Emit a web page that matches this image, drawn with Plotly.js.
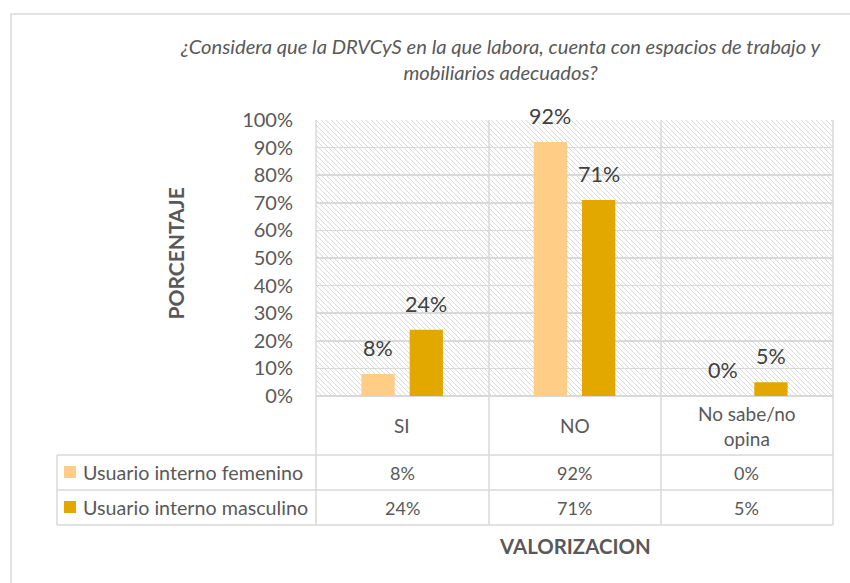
<!DOCTYPE html>
<html>
<head>
<meta charset="utf-8">
<script src="https://cdn.plot.ly/plotly-3.0.1.min.js"></script>
<style>html,body{margin:0;padding:0;background:#fff;}#chart{width:850px;height:583px;}</style>
</head>
<body>
<div id="chart"></div>
<script>
const categories = ['SI', 'NO', 'No sabe/no opina'];
const categoryLabels = ['SI', 'NO', 'No sabe/no<br>opina'];
const seriesNames = ['Usuario interno femenino', 'Usuario interno masculino'];
const femenino = [8, 92, 0];
const masculino = [24, 71, 5];
const yTicks = [0, 10, 20, 30, 40, 50, 60, 70, 80, 90, 100];
const titleText = '¿Considera que la DRVCyS en la que labora, cuenta con espacios de trabajo y<br>mobiliarios adecuados?';
const yTitle = 'PORCENTAJE';
const xTitle = 'VALORIZACION';

const colors = ['#FFCD85', '#E2A800'];
const FONT = 'Lato, "Open Sans", sans-serif';
const GRID = '#d9d9d9';
const TXT = '#595959';

// geometry helpers (pixel -> paper)
const L = 316, R = 833, T = 120, B = 396, W = 850, H = 583;
const px = x => (x - L) / (R - L);
const py = y => (B - y) / (B - T);

const seriesData = [femenino, masculino];
const traces = seriesData.map((vals, i) => ({
  type: 'bar', x: categories, y: vals, name: seriesNames[i],
  marker: {color: colors[i]}, hoverinfo: 'skip', showlegend: false
}));

const annotations = [];
const shapes = [];
const offs = [-0.14, 0.14];
seriesData.forEach((vals, s) => {
  vals.forEach((v, i) => {
    annotations.push({x: i + offs[s], y: v, xref: 'x', yref: 'y', text: v + '%', showarrow: false,
      yanchor: 'middle', yshift: 26, font: {family: FONT, size: 21.5, color: '#404040'}});
  });
});
// category header row
categoryLabels.forEach((c, i) => {
  annotations.push({x: i, y: py(425.5), xref: 'x', yref: 'paper', text: c, showarrow: false,
    yanchor: 'middle', font: {family: FONT, size: 19, color: TXT}});
});
// table rows
const rowCenters = [472.5, 507.5];
const rowTops = [466, 501];
seriesData.forEach((vals, s) => {
  vals.forEach((v, i) => {
    annotations.push({x: i, y: py(rowCenters[s]), xref: 'x', yref: 'paper', text: v + '%', showarrow: false,
      yanchor: 'middle', font: {family: FONT, size: 18, color: TXT}});
  });
  annotations.push({x: px(81), y: py(rowCenters[s]), xref: 'paper', yref: 'paper', text: seriesNames[s],
    showarrow: false, xanchor: 'left', yanchor: 'middle', font: {family: FONT, size: 19.7, color: TXT}});
  shapes.push({type: 'rect', xref: 'paper', yref: 'paper', x0: px(64), x1: px(76), y0: py(rowTops[s]), y1: py(rowTops[s] + 12),
    fillcolor: colors[s], line: {width: 0}});
});
// titles
annotations.push({x: px(500), y: py(59), xref: 'paper', yref: 'paper', text: '<i>' + titleText + '</i>', showarrow: false,
  xanchor: 'center', yanchor: 'middle', font: {family: FONT, size: 20.2, color: TXT}});
annotations.push({x: px(175), y: py(253.5), xref: 'paper', yref: 'paper', text: '<b>' + yTitle + '</b>', showarrow: false,
  textangle: -90, xanchor: 'center', yanchor: 'middle', font: {family: FONT, size: 21, color: TXT}});
annotations.push({x: px(575), y: py(545.5), xref: 'paper', yref: 'paper', text: '<b>' + xTitle + '</b>', showarrow: false,
  xanchor: 'center', yanchor: 'middle', font: {family: FONT, size: 20.4, color: TXT}});

// table / grid lines
const line = {color: GRID, width: 1.5};
[316, 489, 661, 833].forEach(x => shapes.push({type: 'line', xref: 'paper', yref: 'paper', x0: px(x), x1: px(x), y0: py(T), y1: py(525), line}));
[455, 490, 525].forEach(y => shapes.push({type: 'line', xref: 'paper', yref: 'paper', x0: px(57), x1: px(833), y0: py(y), y1: py(y), line}));
shapes.push({type: 'line', xref: 'paper', yref: 'paper', x0: px(57), x1: px(57), y0: py(455), y1: py(525), line});
// outer chart border
shapes.push({type: 'rect', xref: 'paper', yref: 'paper', x0: px(11), x1: px(W + 5), y0: py(14), y1: py(H + 5), line: {color: GRID, width: 1.5}});

// hatched plot background
const pw = R - L, ph = B - T;
const svg = `<svg xmlns='http://www.w3.org/2000/svg' width='${pw}' height='${ph}'><defs><pattern id='p' patternUnits='userSpaceOnUse' width='5' height='5'><rect width='5' height='5' fill='white'/><path d='M-1,-1 L6,6 M-1,4 L1,6 M4,-1 L6,1' stroke='%23dadada' stroke-width='1'/></pattern></defs><rect width='${pw}' height='${ph}' fill='url(%23p)'/></svg>`;
const img = 'data:image/svg+xml;charset=utf-8,' + svg.replace(/</g, '%3C').replace(/>/g, '%3E').replace(/ /g, '%20');

const layout = {
  width: W, height: H,
  margin: {l: L, r: W - R, t: T, b: H - B, pad: 0},
  paper_bgcolor: 'white', plot_bgcolor: 'rgba(0,0,0,0)',
  barmode: 'group', bargap: 0.44, bargroupgap: 0.31,
  xaxis: {type: 'category', showticklabels: false, showgrid: false, zeroline: false, showline: false, ticks: ''},
  yaxis: {range: [0, 100], tickvals: yTicks, ticktext: yTicks.map(v => v + '%'), showgrid: true, gridcolor: GRID, gridwidth: 1.5,
    zeroline: true, zerolinecolor: GRID, zerolinewidth: 1.5, showline: false, ticks: '', ticklabelstandoff: 22,
    tickfont: {family: FONT, size: 20, color: TXT}, fixedrange: true},
  annotations, shapes,
  images: [{source: img, xref: 'paper', yref: 'paper', x: 0, y: 1, sizex: 1, sizey: 1, xanchor: 'left', yanchor: 'top', sizing: 'stretch', layer: 'below'}],
  showlegend: false
};
Plotly.newPlot('chart', traces, layout, {staticPlot: true});
</script>
</body>
</html>
